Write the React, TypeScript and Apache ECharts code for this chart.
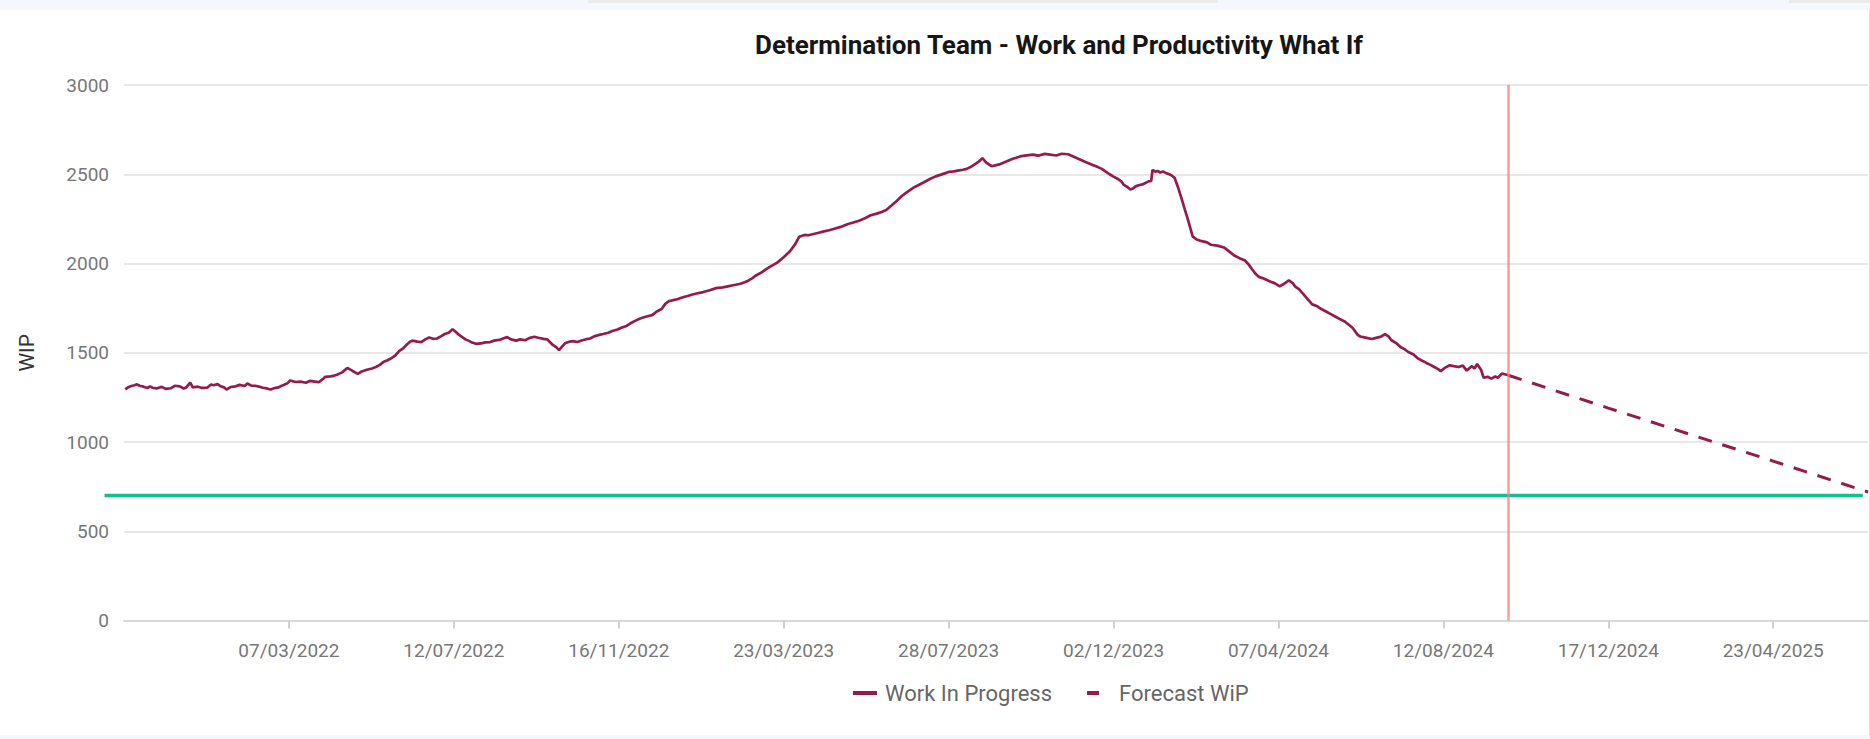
import React, { useEffect, useRef } from "react";
import * as echarts from "echarts";

// ---- data ----
const AXIS_START = "2021-10-31";
const AXIS_END = "2025-07-05";
const TODAY = "2024-10-01";

const TICK_LABELS = [
  "07/03/2022", "12/07/2022", "16/11/2022", "23/03/2023", "28/07/2023",
  "02/12/2023", "07/04/2024", "12/08/2024", "17/12/2024", "23/04/2025",
];

const Y_TICKS = [0, 500, 1000, 1500, 2000, 2500, 3000];

const WIP_POINTS: [string, number][] = [
  ["2021-11-01", 1295], ["2021-11-03", 1306], ["2021-11-05", 1312], ["2021-11-08", 1318],
  ["2021-11-10", 1323], ["2021-11-12", 1315], ["2021-11-15", 1310], ["2021-11-18", 1302],
  ["2021-11-20", 1312], ["2021-11-22", 1304], ["2021-11-25", 1300], ["2021-11-29", 1309],
  ["2021-12-02", 1298], ["2021-12-06", 1301], ["2021-12-09", 1315], ["2021-12-13", 1312],
  ["2021-12-16", 1300], ["2021-12-18", 1306], ["2021-12-21", 1333], ["2021-12-23", 1306],
  ["2021-12-27", 1310], ["2021-12-30", 1303], ["2022-01-03", 1304], ["2022-01-06", 1322],
  ["2022-01-08", 1318], ["2022-01-11", 1324], ["2022-01-13", 1314], ["2022-01-16", 1306],
  ["2022-01-18", 1294], ["2022-01-21", 1308], ["2022-01-25", 1312], ["2022-01-28", 1320],
  ["2022-02-01", 1314], ["2022-02-03", 1328], ["2022-02-06", 1316], ["2022-02-09", 1315],
  ["2022-02-12", 1310], ["2022-02-15", 1304], ["2022-02-18", 1300], ["2022-02-21", 1294],
  ["2022-02-24", 1302], ["2022-02-27", 1306], ["2022-03-01", 1314], ["2022-03-03", 1319],
  ["2022-03-06", 1330], ["2022-03-08", 1345], ["2022-03-12", 1336], ["2022-03-16", 1338],
  ["2022-03-20", 1332], ["2022-03-23", 1342], ["2022-03-27", 1338], ["2022-03-30", 1335],
  ["2022-04-02", 1352], ["2022-04-04", 1365], ["2022-04-08", 1368], ["2022-04-11", 1372],
  ["2022-04-13", 1377], ["2022-04-17", 1390], ["2022-04-21", 1415], ["2022-04-25", 1398],
  ["2022-04-29", 1382], ["2022-05-02", 1395], ["2022-05-06", 1405], ["2022-05-10", 1412],
  ["2022-05-13", 1420], ["2022-05-16", 1432], ["2022-05-19", 1450], ["2022-05-22", 1458],
  ["2022-05-25", 1470], ["2022-05-28", 1485], ["2022-05-31", 1510], ["2022-06-03", 1525],
  ["2022-06-05", 1540], ["2022-06-08", 1560], ["2022-06-10", 1568], ["2022-06-14", 1562],
  ["2022-06-17", 1560], ["2022-06-20", 1575], ["2022-06-23", 1585], ["2022-06-26", 1578],
  ["2022-06-29", 1580], ["2022-07-02", 1592], ["2022-07-05", 1605], ["2022-07-08", 1612],
  ["2022-07-11", 1632], ["2022-07-13", 1620], ["2022-07-16", 1600], ["2022-07-19", 1585],
  ["2022-07-21", 1575], ["2022-07-24", 1565], ["2022-07-26", 1557], ["2022-07-29", 1550],
  ["2022-08-02", 1552], ["2022-08-05", 1558], ["2022-08-09", 1560], ["2022-08-12", 1568],
  ["2022-08-16", 1572], ["2022-08-19", 1580], ["2022-08-22", 1588], ["2022-08-25", 1575],
  ["2022-08-29", 1568], ["2022-09-01", 1575], ["2022-09-05", 1570], ["2022-09-08", 1582],
  ["2022-09-12", 1590], ["2022-09-15", 1584], ["2022-09-19", 1578], ["2022-09-22", 1575],
  ["2022-09-26", 1545], ["2022-09-29", 1530], ["2022-10-01", 1515], ["2022-10-04", 1540],
  ["2022-10-06", 1555], ["2022-10-09", 1562], ["2022-10-12", 1565], ["2022-10-15", 1560],
  ["2022-10-19", 1570], ["2022-10-22", 1576], ["2022-10-25", 1580], ["2022-10-28", 1592],
  ["2022-11-01", 1600], ["2022-11-04", 1605], ["2022-11-08", 1612], ["2022-11-11", 1622],
  ["2022-11-15", 1630], ["2022-11-18", 1640], ["2022-11-22", 1650], ["2022-11-25", 1665],
  ["2022-11-29", 1680], ["2022-12-02", 1690], ["2022-12-06", 1700], ["2022-12-09", 1706],
  ["2022-12-12", 1712], ["2022-12-15", 1730], ["2022-12-19", 1745], ["2022-12-22", 1775],
  ["2022-12-25", 1790], ["2022-12-28", 1795], ["2022-12-31", 1800], ["2023-01-05", 1812],
  ["2023-01-08", 1818], ["2023-01-11", 1825], ["2023-01-15", 1832], ["2023-01-20", 1840],
  ["2023-01-25", 1850], ["2023-01-30", 1862], ["2023-02-04", 1866], ["2023-02-08", 1872],
  ["2023-02-12", 1878], ["2023-02-17", 1885], ["2023-02-21", 1895], ["2023-02-24", 1905],
  ["2023-02-27", 1918], ["2023-03-01", 1930], ["2023-03-06", 1950], ["2023-03-09", 1966],
  ["2023-03-12", 1980], ["2023-03-15", 1992], ["2023-03-18", 2005], ["2023-03-23", 2035],
  ["2023-03-28", 2070], ["2023-04-01", 2110], ["2023-04-04", 2150], ["2023-04-08", 2160],
  ["2023-04-11", 2158], ["2023-04-15", 2165], ["2023-04-19", 2172], ["2023-04-23", 2180],
  ["2023-04-27", 2186], ["2023-05-01", 2195], ["2023-05-06", 2205], ["2023-05-11", 2220],
  ["2023-05-15", 2228], ["2023-05-20", 2240], ["2023-05-25", 2255], ["2023-05-29", 2270],
  ["2023-06-02", 2278], ["2023-06-05", 2285], ["2023-06-10", 2300], ["2023-06-14", 2325],
  ["2023-06-18", 2350], ["2023-06-22", 2378], ["2023-06-26", 2400], ["2023-07-01", 2425],
  ["2023-07-05", 2440], ["2023-07-09", 2455], ["2023-07-14", 2475], ["2023-07-18", 2488],
  ["2023-07-21", 2495], ["2023-07-25", 2505], ["2023-07-28", 2513], ["2023-08-01", 2516],
  ["2023-08-04", 2520], ["2023-08-08", 2525], ["2023-08-11", 2530], ["2023-08-15", 2545],
  ["2023-08-18", 2560], ["2023-08-21", 2575], ["2023-08-23", 2590], ["2023-08-26", 2565],
  ["2023-08-30", 2545], ["2023-09-02", 2550], ["2023-09-05", 2555], ["2023-09-10", 2570],
  ["2023-09-15", 2585], ["2023-09-18", 2592], ["2023-09-21", 2600], ["2023-09-26", 2606],
  ["2023-10-01", 2610], ["2023-10-05", 2604], ["2023-10-10", 2614], ["2023-10-14", 2610],
  ["2023-10-19", 2605], ["2023-10-23", 2615], ["2023-10-28", 2612], ["2023-11-01", 2600],
  ["2023-11-04", 2590], ["2023-11-07", 2580], ["2023-11-10", 2570], ["2023-11-15", 2555],
  ["2023-11-20", 2540], ["2023-11-23", 2530], ["2023-11-26", 2515], ["2023-11-29", 2500],
  ["2023-12-02", 2487], ["2023-12-05", 2475], ["2023-12-08", 2460], ["2023-12-10", 2440],
  ["2023-12-13", 2427], ["2023-12-15", 2415], ["2023-12-17", 2420], ["2023-12-19", 2432],
  ["2023-12-22", 2440], ["2023-12-25", 2445], ["2023-12-29", 2460], ["2023-12-31", 2462],
  ["2024-01-01", 2525], ["2024-01-03", 2515], ["2024-01-05", 2518], ["2024-01-07", 2510],
  ["2024-01-09", 2515], ["2024-01-12", 2505], ["2024-01-14", 2500], ["2024-01-16", 2492],
  ["2024-01-18", 2480], ["2024-01-21", 2420], ["2024-01-23", 2373], ["2024-01-26", 2300],
  ["2024-01-28", 2253], ["2024-02-01", 2150], ["2024-02-04", 2135], ["2024-02-08", 2125],
  ["2024-02-12", 2118], ["2024-02-15", 2105], ["2024-02-20", 2100], ["2024-02-25", 2090],
  ["2024-02-29", 2068], ["2024-03-04", 2045], ["2024-03-08", 2030], ["2024-03-12", 2018],
  ["2024-03-15", 1995], ["2024-03-18", 1965], ["2024-03-20", 1945], ["2024-03-23", 1925],
  ["2024-03-27", 1915], ["2024-04-01", 1898], ["2024-04-04", 1890], ["2024-04-08", 1872],
  ["2024-04-11", 1885], ["2024-04-15", 1905], ["2024-04-18", 1890], ["2024-04-20", 1870],
  ["2024-04-23", 1855], ["2024-04-25", 1838], ["2024-04-29", 1805], ["2024-05-03", 1771],
  ["2024-05-07", 1760], ["2024-05-10", 1745], ["2024-05-14", 1730], ["2024-05-17", 1718],
  ["2024-05-21", 1702], ["2024-05-24", 1690], ["2024-05-28", 1675], ["2024-05-31", 1658],
  ["2024-06-03", 1640], ["2024-06-05", 1620], ["2024-06-07", 1600], ["2024-06-09", 1591],
  ["2024-06-13", 1585], ["2024-06-18", 1577], ["2024-06-22", 1585], ["2024-06-25", 1590],
  ["2024-06-28", 1604], ["2024-07-01", 1590], ["2024-07-03", 1570], ["2024-07-07", 1552],
  ["2024-07-10", 1532], ["2024-07-13", 1520], ["2024-07-16", 1504], ["2024-07-20", 1490],
  ["2024-07-23", 1470], ["2024-07-26", 1458], ["2024-07-30", 1443], ["2024-08-02", 1432],
  ["2024-08-05", 1420], ["2024-08-08", 1408], ["2024-08-10", 1397], ["2024-08-13", 1415],
  ["2024-08-17", 1430], ["2024-08-20", 1425], ["2024-08-24", 1420], ["2024-08-27", 1428],
  ["2024-08-30", 1400], ["2024-09-03", 1425], ["2024-09-05", 1412], ["2024-09-07", 1437],
  ["2024-09-10", 1405], ["2024-09-12", 1360], ["2024-09-15", 1365], ["2024-09-18", 1355],
  ["2024-09-21", 1368], ["2024-09-23", 1360], ["2024-09-26", 1383], ["2024-09-29", 1378],
  ["2024-10-01", 1374],
];

const FORECAST_DATES = ["2024-10-01", "2024-12-17", "2025-04-23", "2025-07-05"];
const FORECAST_VALUES = [1374, 1190, 893, 720];

const TARGET_DATES = ["2021-10-16", "2025-07-01"];
const TARGET_VALUE = 700;

// ---- helpers ----
const DAY = 86400000;
const parseIso = (s: string) => {
  const [y, m, d] = s.split("-").map(Number);
  return Date.UTC(y, m - 1, d);
};
const BASE = parseIso(AXIS_START);
const toX = (s: string) => Math.round((parseIso(s) - BASE) / DAY);
const fromLabel = (s: string) => {
  const [d, m, y] = s.split("/").map(Number);
  return Math.round((Date.UTC(y, m - 1, d) - BASE) / DAY);
};
const pad = (n: number) => (n < 10 ? "0" + n : "" + n);
const fmt = (v: number) => {
  const dt = new Date(BASE + Math.round(v) * DAY);
  return pad(dt.getUTCDate()) + "/" + pad(dt.getUTCMonth() + 1) + "/" + dt.getUTCFullYear();
};

const FONT = "Roboto";
const WIP_COLOR = "#941b4c";

// grid geometry (px)
const GRID_TOP = 85;
const GRID_BOTTOM = 118.5;
const GRID_LEFT = 124;
const GRID_RIGHT = 2;
const PX_PER_DAY = (1870 - GRID_LEFT - GRID_RIGHT) / (toX(AXIS_END) - toX(AXIS_START));

export default function App() {
  const ref = useRef<HTMLDivElement>(null);

  useEffect(() => {
    if (!ref.current) return;
    const chart = echarts.init(ref.current, null, { renderer: "svg" });
    const tickValues = TICK_LABELS.map(fromLabel);

    // the target line runs outside the main plot area, so it gets its own grid
    const tStart = toX(TARGET_DATES[0]);
    const tEnd = toX(TARGET_DATES[1]);
    const grid2Left = GRID_LEFT + tStart * PX_PER_DAY;
    const grid2Right = 1870 - (GRID_LEFT + tEnd * PX_PER_DAY);

    const option: any = {
      animation: false,
      backgroundColor: "#ffffff",
      textStyle: { fontFamily: FONT },
      title: {
        text: "Determination Team - Work and Productivity What If",
        left: 755,
        top: 32,
        padding: 0,
        textStyle: { fontFamily: FONT, fontSize: 26, fontWeight: "bold", color: "#161616" },
      },
      legend: {
        left: 853,
        top: 682,
        padding: 0,
        itemWidth: 24,
        itemHeight: 4,
        itemGap: 35,
        textStyle: { fontFamily: FONT, fontSize: 22, color: "#666666", padding: [0, 0, 0, 3] },
        data: [
          { name: "Work In Progress", icon: "path://M0,0h24v4h-24z" },
          { name: "Forecast WiP", icon: "path://M0,0h12v4h-12z M23.9,0h0.1v0.1h-0.1z" },
        ],
      },
      grid: [
        { left: GRID_LEFT, right: GRID_RIGHT, top: GRID_TOP, bottom: GRID_BOTTOM, containLabel: false },
        { left: grid2Left, right: grid2Right, top: GRID_TOP, bottom: GRID_BOTTOM, containLabel: false },
      ],
      xAxis: [
        {
          type: "value",
          gridIndex: 0,
          min: toX(AXIS_START),
          max: toX(AXIS_END),
          splitLine: { show: false },
          axisLine: { show: true, lineStyle: { color: "#d9d9d9", width: 2 } },
          axisTick: {
            show: true,
            length: 8,
            customValues: tickValues,
            lineStyle: { color: "#d0d0d0", width: 2 },
          },
          axisLabel: {
            customValues: tickValues,
            margin: 20,
            fontFamily: FONT,
            fontSize: 19,
            color: "#777777",
            formatter: (v: number) => fmt(v),
          },
        },
        {
          type: "value",
          gridIndex: 1,
          min: tStart,
          max: tEnd,
          show: false,
        },
      ],
      yAxis: [
        {
          type: "value",
          gridIndex: 0,
          min: Y_TICKS[0],
          max: Y_TICKS[Y_TICKS.length - 1],
          interval: Y_TICKS[1] - Y_TICKS[0],
          name: "WIP",
          nameLocation: "middle",
          nameGap: 87,
          nameTextStyle: { fontFamily: FONT, fontSize: 21, color: "#333333" },
          axisLine: { show: false },
          axisTick: { show: false },
          axisLabel: {
            margin: 15,
            fontFamily: FONT,
            fontSize: 19,
            color: "#777777",
            formatter: (v: number) => String(v),
          },
          splitLine: { show: true, lineStyle: { color: "#e8e8e8", width: 2 } },
        },
        {
          type: "value",
          gridIndex: 1,
          min: Y_TICKS[0],
          max: Y_TICKS[Y_TICKS.length - 1],
          show: false,
          splitLine: { show: false },
        },
      ],
      series: [
        {
          name: "Target",
          type: "line",
          xAxisIndex: 1,
          yAxisIndex: 1,
          silent: true,
          symbol: "none",
          z: 2,
          lineStyle: { color: "#12c08e", width: 3.5 },
          itemStyle: { color: "#12c08e" },
          data: TARGET_DATES.map((d) => [toX(d), TARGET_VALUE]),
        },
        {
          name: "Work In Progress",
          type: "line",
          symbol: "none",
          showSymbol: false,
          z: 4,
          lineStyle: { color: WIP_COLOR, width: 2.7 },
          itemStyle: { color: WIP_COLOR },
          data: WIP_POINTS.map(([d, v]) => [toX(d), v]),
          markLine: {
            silent: true,
            symbol: ["none", "none"],
            label: { show: false },
            lineStyle: { color: "rgba(255,120,120,0.75)", width: 2.5, type: "solid" },
            data: [{ xAxis: toX(TODAY) }],
          },
        },
        {
          name: "Forecast WiP",
          type: "line",
          symbol: "none",
          showSymbol: false,
          z: 4,
          lineStyle: { color: WIP_COLOR, width: 3, type: [14, 11] },
          itemStyle: { color: WIP_COLOR },
          data: FORECAST_DATES.map((d, i) => [toX(d), FORECAST_VALUES[i]]),
        },
      ],
      graphic: [
        { type: "rect", silent: true, z: -1, shape: { x: 0, y: 0, width: 1870, height: 10 }, style: { fill: "#f4f7fb" } },
        { type: "rect", silent: true, z: -1, shape: { x: 588, y: 0, width: 630, height: 3 }, style: { fill: "#ebebeb" } },
        { type: "rect", silent: true, z: -1, shape: { x: 1789, y: 0, width: 81, height: 3 }, style: { fill: "#ebebeb" } },
        { type: "rect", silent: true, z: -1, shape: { x: 0, y: 735, width: 1870, height: 4 }, style: { fill: "#f4f7fb" } },
        { type: "line", silent: true, z: -1, shape: { x1: 1869.5, y1: 10, x2: 1869.5, y2: 735 }, style: { stroke: "#e3e3e3", lineWidth: 1 } },
      ],
    };

    chart.setOption(option);
    return () => chart.dispose();
  }, []);

  return (
    <div
      ref={ref}
      style={{ position: "fixed", left: 0, top: 0, width: 1870, height: 739 }}
    />
  );
}
